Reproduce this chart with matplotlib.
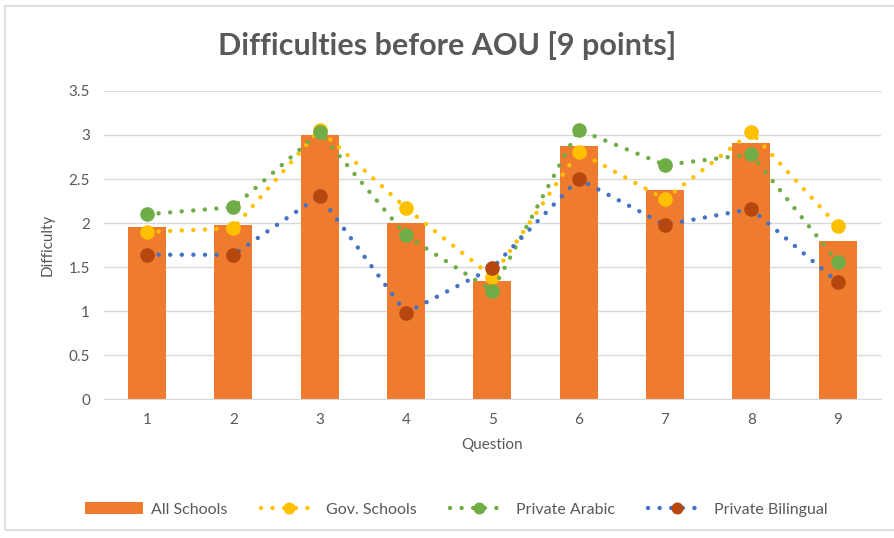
import numpy as np
import matplotlib.pyplot as plt
from matplotlib.patches import Rectangle

questions = ["1", "2", "3", "4", "5", "6", "7", "8", "9"]
all_schools = [1.95, 1.98, 3.0, 2.0, 1.34, 2.87, 2.38, 2.91, 1.80]
gov_schools = [1.90, 1.94, 3.06, 2.17, 1.39, 2.81, 2.27, 3.03, 1.97]
private_arabic = [2.10, 2.18, 3.03, 1.86, 1.23, 3.06, 2.66, 2.78, 1.56]
private_bilingual = [1.64, 1.64, 2.31, 0.98, 1.49, 2.50, 1.98, 2.16, 1.33]

plt.rcParams['font.family'] = ['Lato', 'DejaVu Sans']

fig = plt.figure(figsize=(8.95, 5.38), dpi=100)
ax = fig.add_axes([0.116, 0.258, 0.868, 0.573])

# light chart border like the excel frame
fig.patches.append(Rectangle((5 / 895, 8 / 538), 1.0, 1 - 14 / 538,
                             transform=fig.transFigure, fill=False,
                             edgecolor="#d9d9d9", linewidth=1.2))

x = np.arange(len(questions))
bars = ax.bar(x, all_schools, width=0.44, color="#EF7B2E", zorder=2,
              label="All Schools")

dots = (0, (0.01, 2.6))
line_kw = dict(linestyle=dots, dash_capstyle="round", linewidth=3.2,
               marker="o", markersize=9.5)
l1, = ax.plot(x, gov_schools, color="#FFC000", markerfacecolor="#FFC000",
              markeredgecolor="#FFC000", zorder=3, label="Gov. Schools", **line_kw)
l2, = ax.plot(x, private_arabic, color="#70AD47", markerfacecolor="#70AD47",
              markeredgecolor="#70AD47", zorder=4, label="Private Arabic", **line_kw)
l3, = ax.plot(x, private_bilingual, color="#4472C4", markerfacecolor="#B5470F",
              markeredgecolor="#B5470F", zorder=5, label="Private Bilingual", **line_kw)

ax.set_xlim(-0.5, len(questions) - 0.5)
ax.set_ylim(0, 3.5)
ax.set_yticks(np.arange(0, 3.51, 0.5))
ax.set_yticklabels(["0", "0.5", "1", "1.5", "2", "2.5", "3", "3.5"])
ax.set_xticks(x)
ax.set_xticklabels(questions)
ax.tick_params(axis="both", length=0, colors="#595959", labelsize=11, pad=10)
ax.grid(axis="y", color="#d9d9d9", linewidth=1, zorder=0)
ax.set_axisbelow(True)
for s in ["top", "right", "left"]:
    ax.spines[s].set_visible(False)
ax.spines["bottom"].set_color("#d9d9d9")

ax.set_xlabel("Question", color="#595959", fontsize=11, labelpad=8)
ax.set_ylabel("Difficulty", color="#595959", fontsize=11, labelpad=10)

fig.text(0.5, 0.915, "Difficulties before AOU [9 points]", ha="center",
         va="center", fontsize=22, fontweight="bold", color="#595959")

fig.legend([bars, l1, l2, l3],
           ["All Schools", "Gov. Schools", "Private Arabic", "Private Bilingual"],
           loc="center", bbox_to_anchor=(0.51, 0.053), ncol=4, frameon=False,
           fontsize=11.5, labelcolor="#595959", handlelength=3.6,
           columnspacing=2.1, handletextpad=0.5, markerscale=0.8)

fig.savefig("out.png", dpi=100)
